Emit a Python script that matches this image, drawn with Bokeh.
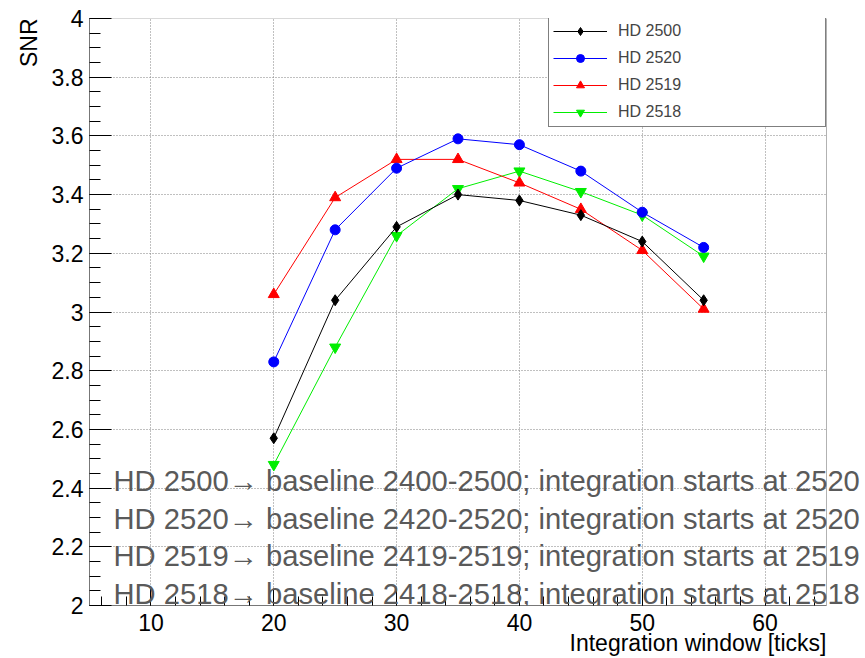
import math

from bokeh.plotting import figure
from bokeh.models import (ColumnDataSource, Range1d, SingleIntervalTicker,
                          CustomJSTickFormatter, Label, Legend, LegendItem,
                          Title, BoxAnnotation)
from bokeh.embed import file_html
from bokeh.resources import INLINE

# Integration window lengths [ticks]
window = [20, 25, 30, 35, 40, 45, 50, 55]

# SNR for each baseline / integration-start choice
snr_hd2500 = [2.57, 3.04, 3.29, 3.40, 3.38, 3.33, 3.24, 3.04]
snr_hd2520 = [2.83, 3.28, 3.49, 3.59, 3.57, 3.48, 3.34, 3.22]
snr_hd2519 = [3.06, 3.39, 3.52, 3.52, 3.44, 3.35, 3.21, 3.01]
snr_hd2518 = [2.48, 2.88, 3.26, 3.42, 3.48, 3.41, 3.33, 3.19]

series_names = ["HD 2500", "HD 2520", "HD 2519", "HD 2518"]

notes = [
    "HD 2500\u2192 baseline 2400-2500; integration starts at 2520",
    "HD 2520\u2192 baseline 2420-2520; integration starts at 2520",
    "HD 2519\u2192 baseline 2419-2519; integration starts at 2519",
    "HD 2518\u2192 baseline 2418-2518; integration starts at 2518",
]

FONT = "Liberation Sans"

# visible axis box: x 5..65, y 2..4; the frame itself runs on to the
# right canvas edge so the long note lines are not cut at x = 65
X0, X1, Y0, Y1 = 5, 65, 2, 4
W, H = 865, 658
LEFT, RIGHT_BOX, TOP, BOTTOM = 89, 826, 18, 605
px_per_x = (RIGHT_BOX - LEFT) / (X1 - X0)
x_end = X0 + (W - LEFT) / px_per_x

p = figure(width=W, height=H, output_backend="svg", toolbar_location=None,
           x_range=Range1d(X0, x_end), y_range=Range1d(Y0, Y1),
           min_border_left=LEFT, min_border_right=0,
           min_border_top=TOP, min_border_bottom=H - BOTTOM)
p.background_fill_color = "white"
p.border_fill_color = "white"
p.outline_line_color = None

# axes: ROOT-like inward ticks
p.xaxis.ticker = SingleIntervalTicker(interval=10, num_minor_ticks=5)
p.yaxis.ticker = SingleIntervalTicker(interval=0.2, num_minor_ticks=4)
p.yaxis.formatter = CustomJSTickFormatter(
    code="return String(Number(tick.toFixed(2)));")
p.xaxis.bounds = (X0, X1)
p.yaxis.bounds = (Y0, Y1)
for ax in (p.xaxis[0], p.yaxis[0]):
    ax.axis_line_color = "#777777"
    ax.major_tick_line_color = "black"
    ax.minor_tick_line_color = "black"
    ax.major_tick_out = 0
    ax.minor_tick_out = 0
    ax.major_label_text_font = FONT
    ax.major_label_text_font_size = "23px"
    ax.major_label_text_color = "black"
p.xaxis.major_tick_in = 17
p.xaxis.minor_tick_in = 9
p.yaxis.major_tick_in = 22
p.yaxis.minor_tick_in = 11
p.xaxis.major_label_standoff = 8
p.yaxis.major_label_standoff = 6

p.xgrid.ticker = p.xaxis.ticker
p.ygrid.ticker = p.yaxis.ticker
for g in (p.xgrid[0], p.ygrid[0]):
    g.grid_line_color = "#808080"
    g.grid_line_dash = "1 2"
    g.grid_line_width = 1

# blank out the strip right of the axis box, then draw the box outline
p.add_layout(BoxAnnotation(left=X1, fill_color="white", fill_alpha=1,
                           line_color=None, level="underlay"))
p.add_layout(BoxAnnotation(left=X0, right=X1, bottom=Y0, top=Y1,
                           fill_alpha=0, line_color="black", line_width=1,
                           level="underlay"))

# series (drawn so that HD 2500 ends up on top)
styles = {
    "HD 2500": dict(color="black", marker="diamond", size=11),
    "HD 2520": dict(color="blue", marker="circle", size=10),
    "HD 2519": dict(color="red", marker="triangle", size=11),
    "HD 2518": dict(color="#00ee00", marker="inverted_triangle", size=11),
}
values = {
    "HD 2500": snr_hd2500,
    "HD 2520": snr_hd2520,
    "HD 2519": snr_hd2519,
    "HD 2518": snr_hd2518,
}

renderers = {}
for name in reversed(series_names):
    st = styles[name]
    src = ColumnDataSource(dict(x=window, y=values[name]))
    ln = p.line("x", "y", source=src, line_color=st["color"], line_width=1)
    mk = p.scatter("x", "y", source=src, marker=st["marker"], size=st["size"],
                   fill_color=st["color"], line_color=st["color"])
    renderers[name] = [ln, mk]

# note lines describing each configuration
note_x = 6.95
note_y0 = 2.4235
note_step = 0.128
for i, txt in enumerate(notes):
    p.add_layout(Label(x=note_x, y=note_y0 - i * note_step, text=txt,
                       text_font=FONT, text_font_size="29.2px",
                       text_color="#5a5a5a", text_baseline="alphabetic",
                       text_align="left"))

# legend in the top-right corner of the axis box
leg_pad, leg_glyph, leg_gap = 4, 54, 11
leg_w, leg_h = 276, 109
legend = Legend(items=[LegendItem(label=n, renderers=renderers[n])
                       for n in series_names],
                location=(RIGHT_BOX - LEFT - leg_w - 2, (BOTTOM - TOP) - leg_h),
                margin=0, padding=leg_pad, spacing=7,
                glyph_width=leg_glyph, glyph_height=20, label_height=20,
                label_width=leg_w - 2 * leg_pad - leg_glyph - leg_gap,
                label_standoff=leg_gap,
                label_text_font=FONT, label_text_font_size="16px",
                border_line_color="black", border_line_width=1,
                background_fill_color="white", background_fill_alpha=1)
p.add_layout(legend, "center")

# axis titles, right/top aligned as in ROOT
p.add_layout(Title(text="Integration window [ticks]", align="right",
                   offset=W - RIGHT_BOX, standoff=-11,
                   text_font=FONT, text_font_size="23px",
                   text_font_style="normal", text_color="black"), "below")
p.add_layout(Title(text="SNR", align="right", offset=0, standoff=13,
                   text_font=FONT, text_font_size="23px",
                   text_font_style="normal", text_color="black"), "left")

open("out.html", "w").write(file_html(p, INLINE))
